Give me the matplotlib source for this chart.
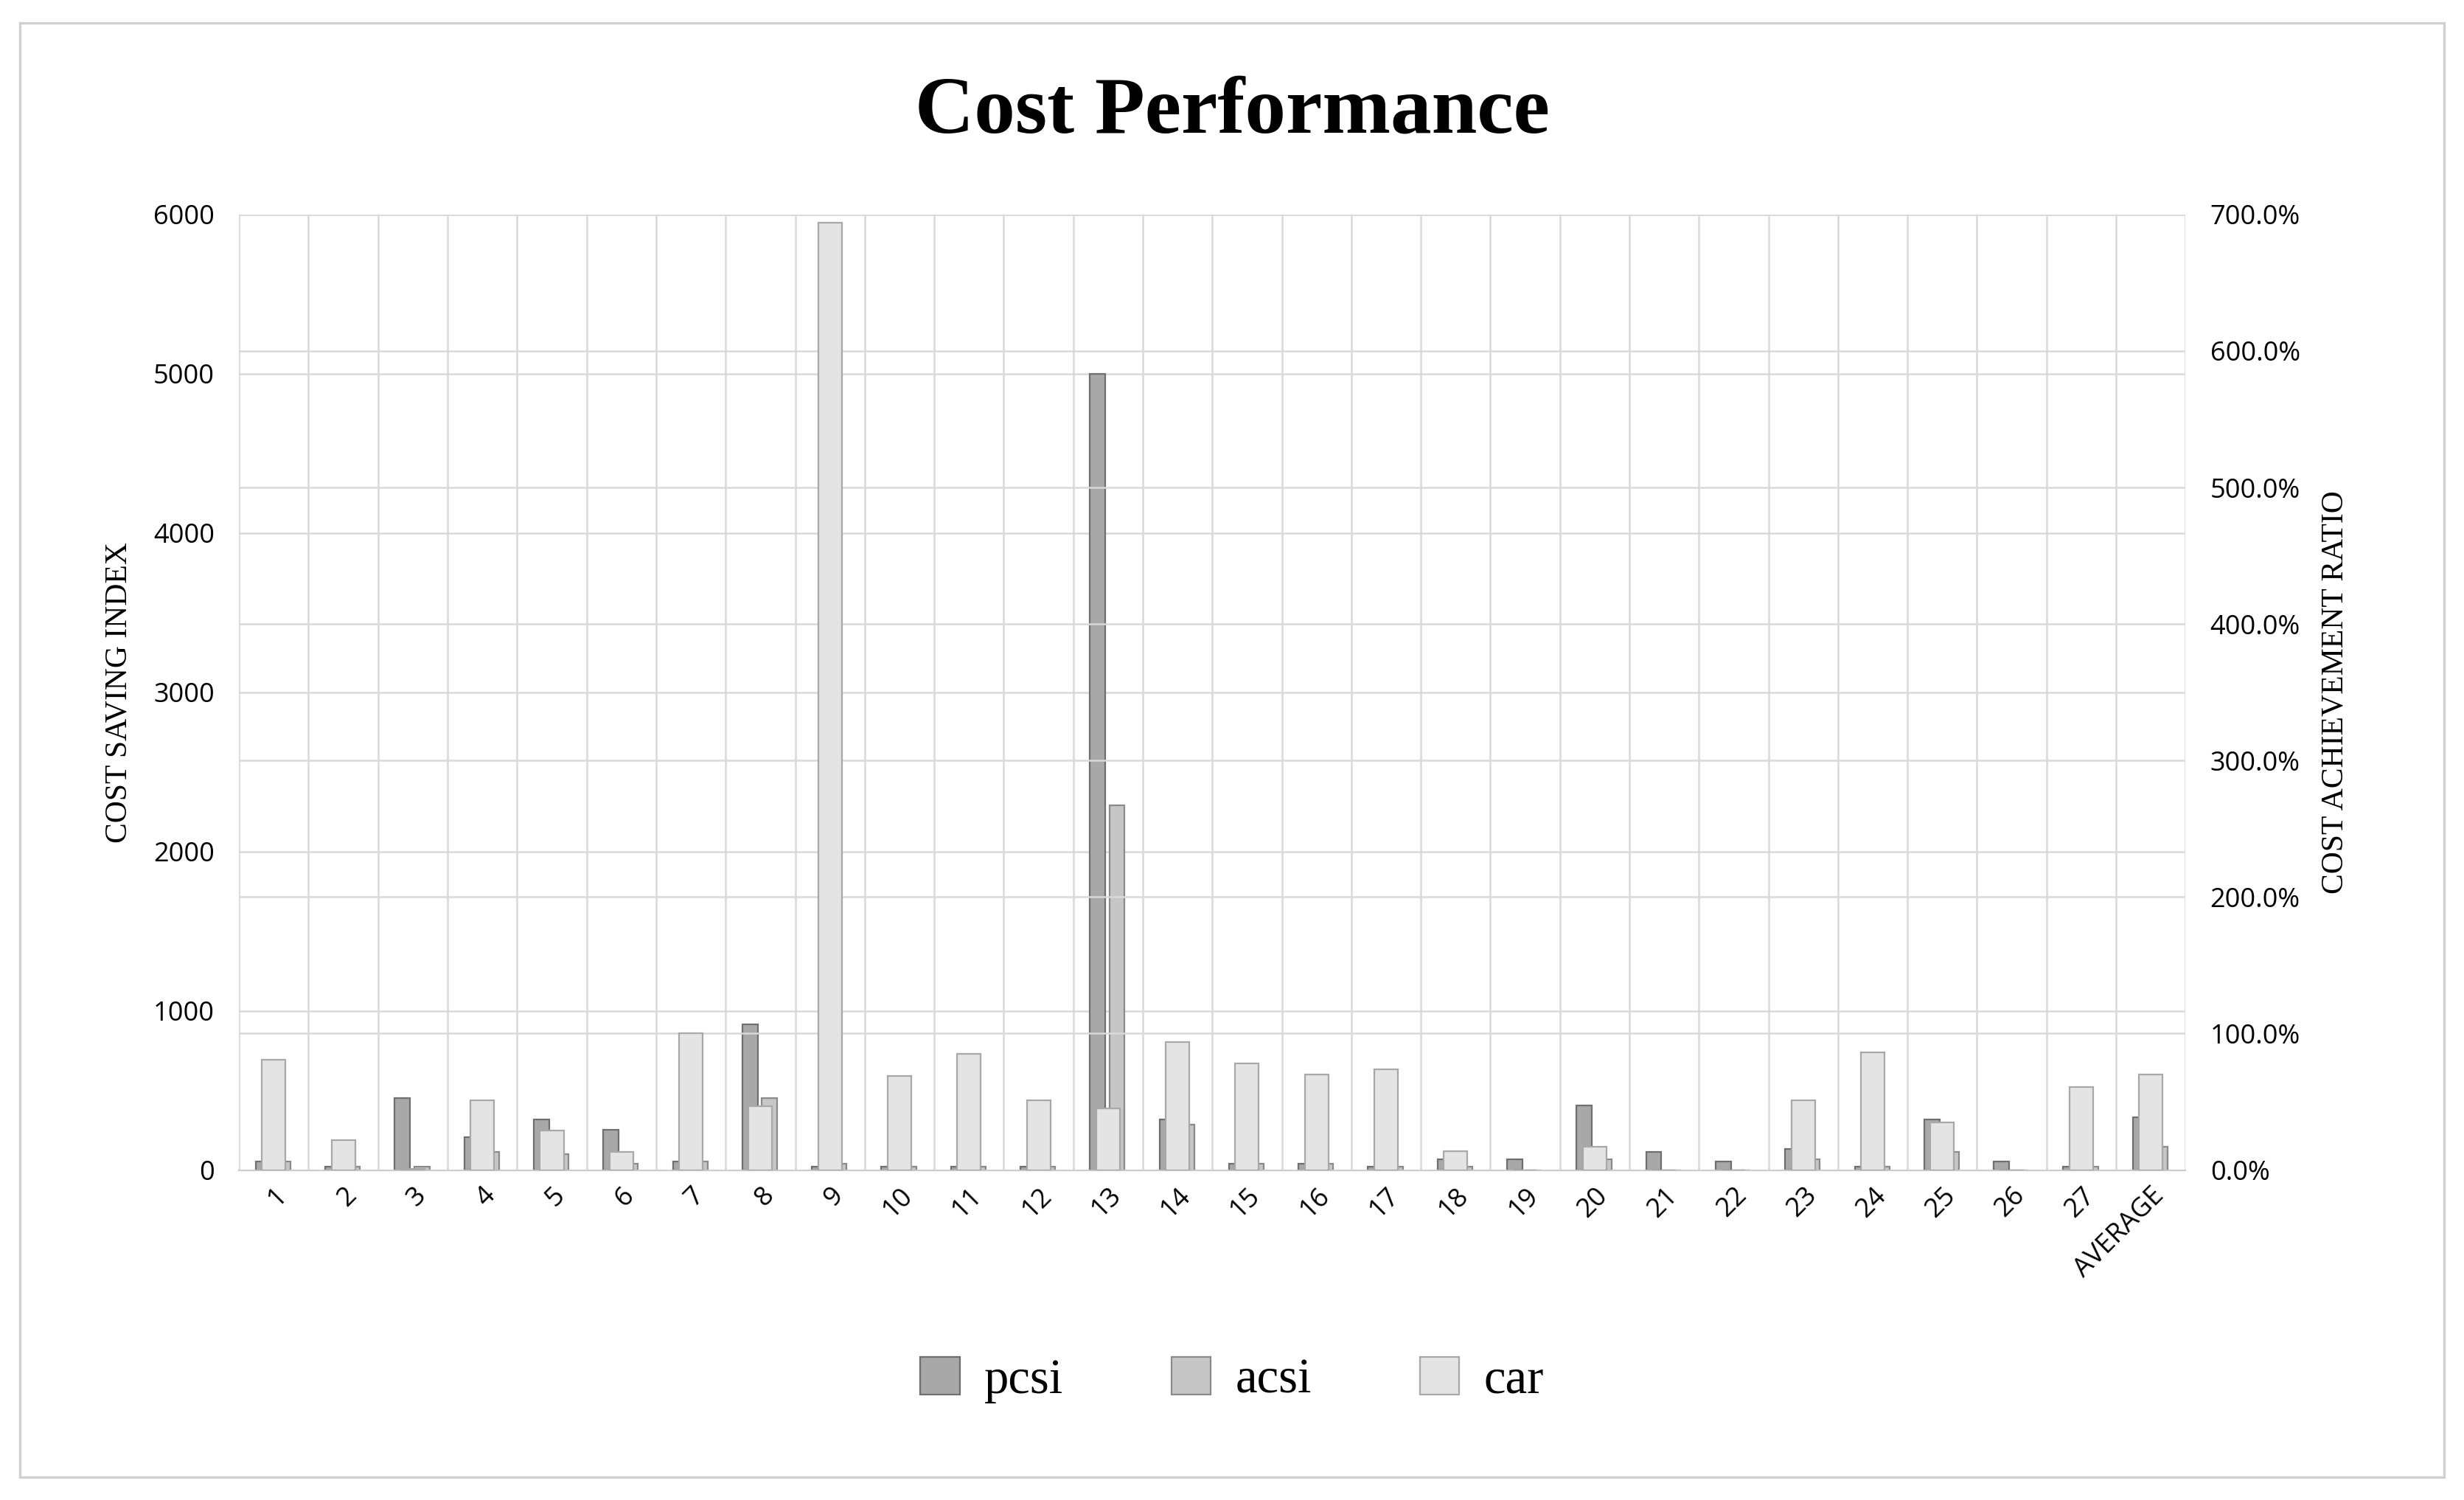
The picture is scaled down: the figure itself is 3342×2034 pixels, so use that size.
import matplotlib
matplotlib.use("Agg")
import matplotlib.pyplot as plt
import numpy as np
from matplotlib.patches import Rectangle

categories = [str(i) for i in range(1, 28)] + ["AVERAGE"]
pcsi = [55, 23, 453, 207, 315, 253, 55, 914, 23, 23, 23, 23, 5000, 315, 38, 38, 23, 69, 69, 407, 115, 55, 130, 23, 315, 55, 23, 330]
acsi = [55, 23, 23, 115, 100, 38, 55, 453, 38, 23, 23, 23, 2290, 284, 38, 38, 23, 23, 0, 69, 0, 0, 69, 23, 115, 0, 23, 146]
car = [81, 22, 1, 51, 29, 13, 100, 47, 694, 69, 85, 51, 45, 94, 78, 70, 74, 14, 0, 17, 0, 0, 51, 86, 35, 0, 61, 70]

fig = plt.figure(figsize=(16.71, 10.17), dpi=200)
fig.patches.append(Rectangle((0.008, 0.015), 0.984, 0.97, transform=fig.transFigure,
                             fill=False, edgecolor="#d0d0d0", linewidth=1.2))
ax = fig.add_axes([0.097, 0.22, 0.79, 0.637])
ax2 = ax.twinx()

x = np.arange(len(categories))
ax.bar(x - 0.15, pcsi, width=0.22, color="#a8a8a8", edgecolor="#6f6f6f", linewidth=0.8, zorder=3)
ax.bar(x + 0.13, acsi, width=0.22, color="#c6c6c6", edgecolor="#8a8a8a", linewidth=0.8, zorder=3)
ax2.bar(x, car, width=0.34, color="#e4e4e4", edgecolor="#a8a8a8", linewidth=0.8, zorder=4)

ax.set_xlim(-0.5, len(categories) - 0.5)
ax.set_ylim(0, 6000)
ax2.set_ylim(0, 700)
ax.set_yticks(range(0, 6001, 1000))
ax2.set_yticks(range(0, 701, 100))
ax2.set_yticklabels([f"{v:.1f}%" for v in range(0, 701, 100)])

ax.set_xticks(x)
ax.set_xticklabels(categories, rotation=45, ha="right", rotation_mode="anchor", fontsize=13, family="Open Sans")
ax.set_xticks(np.arange(-0.5, len(categories)), minor=True)
ax.grid(True, which="minor", axis="x", color="#d9d9d9", linewidth=0.9, zorder=0)
ax.grid(True, which="major", axis="y", color="#d9d9d9", linewidth=0.9, zorder=0)
ax2.grid(True, axis="y", color="#d9d9d9", linewidth=0.9, zorder=0)
ax.tick_params(axis="x", which="both", length=0, pad=6)
ax.tick_params(axis="y", length=0, labelsize=13, pad=12)
ax2.tick_params(axis="y", length=0, labelsize=13, pad=12)
for lab in ax.get_yticklabels() + ax2.get_yticklabels():
    lab.set_family("Open Sans")
for a in (ax, ax2):
    for s in a.spines.values():
        s.set_visible(False)
ax.spines["bottom"].set_visible(True)
ax.spines["bottom"].set_color("#c8c8c8")
ax.set_axisbelow(True)

ax.set_ylabel("COST SAVING INDEX", family="Liberation Serif", fontsize=15, labelpad=10)
ax2.set_ylabel("COST ACHIEVEMENT RATIO", family="Liberation Serif", fontsize=15, labelpad=10)
fig.text(0.5, 0.925, "Cost Performance", ha="center", va="center",
         family="Liberation Serif", fontweight="bold", fontsize=40)

handles = [Rectangle((0, 0), 1, 1, facecolor=c, edgecolor=e, linewidth=0.8)
           for c, e in [("#a8a8a8", "#6f6f6f"), ("#c6c6c6", "#8a8a8a"), ("#e4e4e4", "#a8a8a8")]]
fig.legend(handles, ["pcsi", "acsi", "car"], loc="center", bbox_to_anchor=(0.5, 0.08), ncol=3,
           frameon=False, prop={"family": "Liberation Serif", "size": 24},
           handlelength=0.8, handleheight=0.8, columnspacing=2.2, handletextpad=0.5)

fig.savefig("out.png", dpi=200, facecolor="white")
